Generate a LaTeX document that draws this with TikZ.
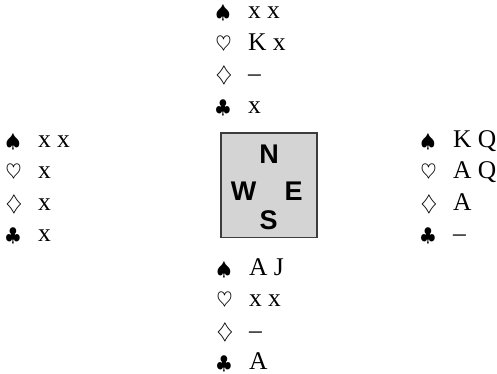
\documentclass[tikz,border=0pt]{standalone}
\usepackage{graphicx}
\usepackage{fontspec}
\setmainfont{Liberation Serif}
\newfontfamily\compassfont{Liberation Sans}
\usetikzlibrary{positioning}

\definecolor{boardgray}{RGB}{212,212,212}
\definecolor{boardedge}{RGB}{60,60,60}

\newcommand{\suitsym}[2][1.9]{{\fontsize{10}{12}\selectfont\scalebox{#1}{$#2$}}}
\newcommand{\suitrow}[2]{\makebox[32.5pt][l]{#1}#2}
\newcommand{\handtab}[4]{%
    \begin{tabular}[t]{@{}l@{}}
        \suitrow{\suitsym{\spadesuit}}{#1}\\
        \suitrow{\suitsym[2.05]{\heartsuit}}{#2}\\
        \suitrow{\suitsym[2.15]{\diamondsuit}}{#3}\\
        \suitrow{\suitsym{\clubsuit}}{#4}
    \end{tabular}}

\begin{document}
\begin{tikzpicture}[
        x=1pt, y=-1pt,
        %
        hand/.style={
            anchor=base west,
            inner sep=0pt,
            font=\fontsize{25.5}{31.5}\selectfont,
        },
        %
        board/.style={
            rectangle,
            draw=boardedge,
            fill=boardgray,
            line width=1.2pt,
            minimum width=96pt,
            minimum height=104.5pt,
        },
        seat/.style={
            inner sep=0pt,
            font=\compassfont\bfseries\fontsize{27}{27}\selectfont,
        }
        ]
        \useasboundingbox (0,0) rectangle (497,374);

        % Table
        
        \node[board] (board) at (269,185.25) {};
        \node[seat] (N) at (269,154) {N};
        \node[seat] (W) at (243.5,191.5) {W};
        \node[seat] (E) at (293.5,191.5) {E};
        \node[seat] (S) at (268.5,220.5) {S};
        
        % Hands
        
        \node[hand] (north) at (215.4,19) {\handtab{x x}{K x}{--}{x}};
        \node[hand] (west) at (5.4,147) {\handtab{x x}{x}{x}{x}};
        \node[hand] (east) at (420.4,147) {\handtab{K Q}{A Q}{A}{--}};
        \node[hand] (south) at (216.4,275) {\handtab{A J}{x x}{--}{A}};
        %
    \end{tikzpicture}
\end{document}
